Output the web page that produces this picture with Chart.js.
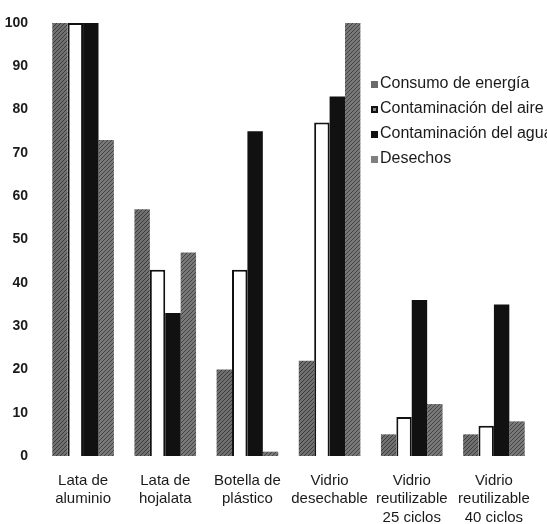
<!DOCTYPE html>
<html>
<head>
<meta charset="utf-8">
<script src="https://cdn.jsdelivr.net/npm/chart.js@4/dist/chart.umd.min.js"></script>
<style>
  html, body { margin: 0; padding: 0; background: #fff; }
  #wrap { width: 547px; height: 524px; position: relative; }
</style>
</head>
<body>
<div id="wrap"><canvas id="grafico"></canvas></div>
<script>
// datos
const categorias = [
    ['Lata de', 'aluminio'],
    ['Lata de', 'hojalata'],
    ['Botella de', 'plástico'],
    ['Vidrio', 'desechable'],
    ['Vidrio', 'reutilizable', '25 ciclos'],
    ['Vidrio', 'reutilizable', '40 ciclos']
]
const series = ['Consumo de energía', 'Contaminación del aire', 'Contaminación del agua', 'Desechos']
const energia = [100, 57, 20, 22, 5, 5]
const aire = [100, 43, 43, 77, 9, 7]
const agua = [100, 33, 75, 83, 36, 35]
const desechos = [73, 47, 1, 100, 12, 8]
const ticksY = [0, 10, 20, 30, 40, 50, 60, 70, 80, 90, 100]

const fuente = "'Liberation Sans', Arial, sans-serif"

// trama gris rayada
function trama(base, raya) {
    const c = document.createElement('canvas')
    c.width = 4
    c.height = 4
    const g = c.getContext('2d')
    g.fillStyle = base
    g.fillRect(0, 0, 4, 4)
    g.fillStyle = raya
    for (let i = 0; i < 4; i++) {
        g.fillRect(i, 3 - i, 1, 1)
    }
    return g.createPattern(c, 'repeat')
}

const ctx = document.getElementById('grafico')
const gris1 = trama('#707070', '#3c3c3c')
const gris2 = trama('#787878', '#444444')

const leyenda = {
    id: 'leyenda',
    afterDraw(chart) {
        const g = chart.ctx
        const colores = [
            ['#6a6a6a', null],
            ['#111', '#888'],
            ['#111', null],
            ['#808080', null]
        ]
        g.save()
        g.font = '16px ' + fuente
        g.textBaseline = 'middle'
        series.forEach((s, i) => {
            const y = 84 + i * 25
            g.fillStyle = colores[i][0]
            g.fillRect(371, y - 3, 7, 7)
            if (colores[i][1]) {
                g.fillStyle = colores[i][1]
                g.fillRect(373, y - 1, 3, 3)
            }
            g.fillStyle = '#1a1a1a'
            g.fillText(s, 380, y)
        })
        g.restore()
    }
}

new Chart(ctx, {
    type: 'bar',
    data: {
        labels: categorias,
        datasets: [
            { label: series[0], data: energia, backgroundColor: gris1, borderWidth: 0 },
            { label: series[1], data: aire, backgroundColor: '#ffffff', borderColor: '#111', borderWidth: 2, borderSkipped: 'bottom' },
            { label: series[2], data: agua, backgroundColor: '#111111', borderWidth: 0 },
            { label: series[3], data: desechos, backgroundColor: gris2, borderWidth: 0 }
        ]
    },
    options: {
        responsive: true,
        maintainAspectRatio: false,
        animation: false,
        categoryPercentage: 0.75,
        barPercentage: 1,
        layout: { padding: { top: 23, right: 12, left: 0, bottom: 0 } },
        plugins: {
            legend: { display: false },
            tooltip: { enabled: false }
        },
        scales: {
            x: {
                grid: { display: false },
                border: { display: false },
                ticks: {
                    color: '#1a1a1a',
                    font: { family: fuente, size: 15, lineHeight: 1.25 },
                    maxRotation: 0,
                    autoSkip: false,
                    padding: 7
                },
                afterFit: (s) => { s.height = 68 }
            },
            y: {
                min: 0,
                max: 100,
                grid: { display: false },
                border: { display: false },
                afterBuildTicks: (s) => { s.ticks = ticksY.map(v => ({ value: v })) },
                ticks: {
                    color: '#1a1a1a',
                    font: { family: fuente, size: 14, weight: 'bold' },
                    padding: 6
                },
                afterFit: (s) => { s.width = 42 }
            }
        }
    },
    plugins: [leyenda]
});
</script>
</body>
</html>
